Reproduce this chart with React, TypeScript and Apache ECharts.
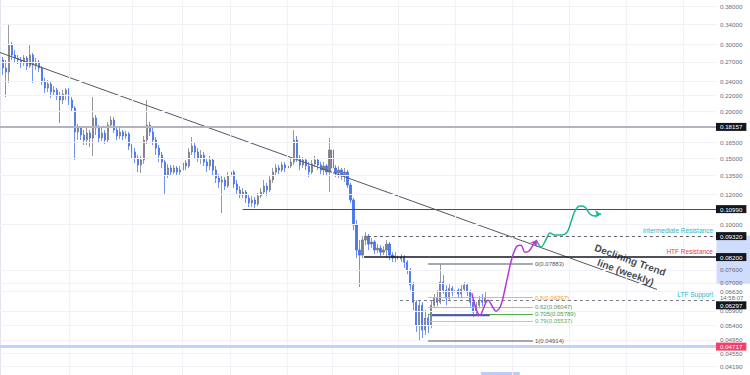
import React, { useEffect, useRef } from "react";
import * as echarts from "echarts";

// ---------- data ----------
const SLOT_COUNT = 240; // time slots across the plot (candles + future space)
const FIRST_SLOT = 1;
const FIRST_OPEN = 0.2732;

const closes = [
  0.2602, 0.2539, 0.2994, 0.2817, 0.2766, 0.2732, 0.2683, 0.2766, 0.2634, 0.2817,
  0.2650, 0.2699, 0.2602, 0.2389, 0.2303, 0.2360, 0.2247, 0.2275, 0.2193, 0.2140,
  0.2220, 0.2275, 0.2140, 0.2038, 0.1760, 0.1804, 0.1728, 0.1676, 0.1750, 0.1697,
  0.1918, 0.1804, 0.1697, 0.1750, 0.1676, 0.1837, 0.1894, 0.1782, 0.1718, 0.1760,
  0.1718, 0.1739, 0.1616, 0.1558, 0.1501, 0.1439, 0.1483, 0.1676, 0.1837, 0.1760,
  0.1676, 0.1596, 0.1529, 0.1465, 0.1353, 0.1413, 0.1378, 0.1413, 0.1378, 0.1395,
  0.1456, 0.1430, 0.1558, 0.1616, 0.1558, 0.1501, 0.1529, 0.1465, 0.1430, 0.1483,
  0.1395, 0.1329, 0.1297, 0.1313, 0.1265, 0.1345, 0.1378, 0.1281, 0.1235, 0.1198,
  0.1220, 0.1176, 0.1141, 0.1162, 0.1134, 0.1191, 0.1220, 0.1265, 0.1235, 0.1313,
  0.1378, 0.1413, 0.1395, 0.1439, 0.1413, 0.1430, 0.1465, 0.1676, 0.1501, 0.1439,
  0.1483, 0.1430, 0.1378, 0.1448, 0.1483, 0.1439, 0.1395, 0.1430, 0.1378, 0.1577,
  0.1413, 0.1370, 0.1395, 0.1345, 0.1378, 0.1273, 0.1162, 0.0997, 0.0856, 0.0830,
  0.0910, 0.0932, 0.0888, 0.0899, 0.0856, 0.0866, 0.0845, 0.0856, 0.0888, 0.0830,
  0.0815, 0.0825, 0.0810, 0.0820, 0.0795, 0.0757, 0.0691, 0.0622, 0.0541, 0.0611,
  0.0525, 0.0565, 0.0541, 0.0611, 0.0638, 0.0622, 0.0704, 0.0670, 0.0638, 0.0678,
  0.0662, 0.0670, 0.0654, 0.0674, 0.0691, 0.0662, 0.0622, 0.0586, 0.0611, 0.0630,
  0.0622, 0.0638,
];

const highs = [
  0.2783, 0.2732, 0.3384, 0.3050, 0.2904, 0.2817, 0.2783, 0.2817, 0.2800, 0.2994,
  0.2852, 0.2766, 0.2732, 0.2634, 0.2448, 0.2418, 0.2389, 0.2331, 0.2303, 0.2247,
  0.2275, 0.2303, 0.2303, 0.2180, 0.2063, 0.1849, 0.1826, 0.1782, 0.1804, 0.1782,
  0.2180, 0.1953, 0.1837, 0.1804, 0.1782, 0.1871, 0.1941, 0.1929, 0.1815, 0.1804,
  0.1782, 0.1771, 0.1760, 0.1636, 0.1596, 0.1529, 0.1520, 0.1718, 0.2140, 0.1871,
  0.1804, 0.1707, 0.1626, 0.1558, 0.1483, 0.1448, 0.1439, 0.1439, 0.1430, 0.1430,
  0.1483, 0.1483, 0.1596, 0.1707, 0.1646, 0.1596, 0.1577, 0.1558, 0.1501, 0.1520,
  0.1501, 0.1430, 0.1361, 0.1345, 0.1337, 0.1378, 0.1413, 0.1395, 0.1313, 0.1265,
  0.1250, 0.1235, 0.1198, 0.1191, 0.1184, 0.1213, 0.1250, 0.1313, 0.1289, 0.1345,
  0.1413, 0.1448, 0.1439, 0.1465, 0.1465, 0.1465, 0.1501, 0.1782, 0.1718, 0.1529,
  0.1510, 0.1501, 0.1465, 0.1483, 0.1520, 0.1501, 0.1465, 0.1465, 0.1448, 0.1697,
  0.1626, 0.1439, 0.1430, 0.1413, 0.1413, 0.1395, 0.1289, 0.1176, 0.1028, 0.0910,
  0.0932, 0.0955, 0.0944, 0.0921, 0.0910, 0.0888, 0.0882, 0.0877, 0.0910, 0.0899,
  0.0845, 0.0845, 0.0835, 0.0835, 0.0830, 0.0805, 0.0767, 0.0704, 0.0630, 0.0630,
  0.0622, 0.0593, 0.0579, 0.0630, 0.0654, 0.0670, 0.0788, 0.0735, 0.0691, 0.0695,
  0.0687, 0.0687, 0.0678, 0.0691, 0.0704, 0.0699, 0.0670, 0.0630, 0.0622, 0.0646,
  0.0654, 0.0662,
];

const lows = [
  0.2493, 0.2180, 0.2374, 0.2732, 0.2699, 0.2666, 0.2602, 0.2634, 0.2570, 0.2602,
  0.2374, 0.2570, 0.2539, 0.2345, 0.2234, 0.2247, 0.2166, 0.2193, 0.2140, 0.1860,
  0.2089, 0.2140, 0.2076, 0.1989, 0.1483, 0.1676, 0.1676, 0.1626, 0.1626, 0.1606,
  0.1520, 0.1728, 0.1646, 0.1666, 0.1636, 0.1656, 0.1804, 0.1750, 0.1676, 0.1686,
  0.1676, 0.1686, 0.1577, 0.1501, 0.1456, 0.1378, 0.1370, 0.1448, 0.1636, 0.1718,
  0.1626, 0.1529, 0.1465, 0.1413, 0.1198, 0.1329, 0.1345, 0.1361, 0.1353, 0.1353,
  0.1370, 0.1395, 0.1413, 0.1529, 0.1501, 0.1465, 0.1448, 0.1430, 0.1378, 0.1395,
  0.1353, 0.1289, 0.1250, 0.1073, 0.1235, 0.1250, 0.1313, 0.1250, 0.1198, 0.1176,
  0.1176, 0.1141, 0.1113, 0.1113, 0.1106, 0.1120, 0.1176, 0.1198, 0.1191, 0.1220,
  0.1289, 0.1345, 0.1361, 0.1378, 0.1378, 0.1395, 0.1413, 0.1439, 0.1465, 0.1395,
  0.1413, 0.1395, 0.1337, 0.1361, 0.1422, 0.1395, 0.1361, 0.1353, 0.1345, 0.1220,
  0.1378, 0.1337, 0.1329, 0.1313, 0.1297, 0.1250, 0.1141, 0.0967, 0.0815, 0.0683,
  0.0815, 0.0882, 0.0856, 0.0866, 0.0835, 0.0840, 0.0825, 0.0830, 0.0815, 0.0805,
  0.0795, 0.0795, 0.0786, 0.0795, 0.0767, 0.0739, 0.0670, 0.0593, 0.0519, 0.0491,
  0.0500, 0.0509, 0.0515, 0.0531, 0.0600, 0.0607, 0.0615, 0.0654, 0.0611, 0.0630,
  0.0646, 0.0638, 0.0638, 0.0642, 0.0662, 0.0646, 0.0607, 0.0568, 0.0572, 0.0600,
  0.0607, 0.0615,
];

// price-axis tick labels
const tickPrices = [
  0.38, 0.34, 0.3, 0.27, 0.24, 0.22, 0.2, 0.165, 0.15, 0.135, 0.12, 0.1,
  0.076, 0.07, 0.0663, 0.059, 0.054, 0.0495, 0.0455, 0.0419,
];
const Y_MAX_PRICE = 0.3942;
const Y_MIN_PRICE = 0.0399;

// horizontal levels (boxed on the price axis)
const levelPrices = [0.18157, 0.1099, 0.0932, 0.082, 0.06297, 0.04717];
const levelStartSlots = [0, 81, 122.8, 121.5, 133.5, 0];
const levelBoxColors = ["#131722", "#131722", "#131722", "#131722", "#131722", "#f23f6b"];
const supportBandPrice = 0.0477;

// level annotations
const annotationTexts = ["Intermediate Resistance", "HTF Resistance", "LTF Support"];
const annotationPrices = [0.0932, 0.082, 0.06297];
const annotationColors = ["#1fb5cc", "#f23645", "#1fb5cc"];
const timerText = "14:58:07";
const timerPrice = 0.0637;

// declining trend line (weekly)
const trendSlots = [0, 219.3];
const trendPrices = [0.286, 0.0673];
const trendLabel = "Declining Trend\nline (weekly)";
const trendLabelPoint = [209.6, 0.0776];

// fibonacci retracement
const fibRatios = ["0", "0.5", "0.62", "0.705", "0.79", "1"];
const fibPrices = [0.07883, 0.06397, 0.06047, 0.05789, 0.05537, 0.04914];
const fibColors = ["#8a8d96", "#f7b267", "#8fd19e", "#4caf50", "#a5d6a7", "#8a8d96"];
const fibLabelColors = ["#50535e", "#f59a2e", "#5d8f66", "#43a047", "#5fae63", "#50535e"];
const fibSlots = [142.9, 177.9];

// purple base line and projections
const baseLineSlots = [144.2, 163.5];
const baseLinePrice = 0.0575;
const purplePath = [
  [157.5, 0.0658], [160.2, 0.0575], [162.9, 0.063], [165.6, 0.0589], [167.2, 0.0611],
  [169.2, 0.0712], [170.9, 0.0815], [172.6, 0.0877], [173.9, 0.0882], [175.2, 0.0845],
  [176.6, 0.0851], [177.9, 0.0882], [179.2, 0.091],
];
const tealPath = [
  [179.2, 0.0904], [180.6, 0.0872], [182.2, 0.091], [183.6, 0.095], [185.2, 0.0938],
  [187.2, 0.0938], [189.3, 0.0955], [190.6, 0.1016], [191.9, 0.1086], [193.6, 0.112],
  [195.3, 0.1113], [196.9, 0.1067], [198.6, 0.1054], [200.6, 0.1067],
];

// vertical grid slots and highlights
const verticalGridSlots = [23, 44, 61, 77, 96, 111, 133, 152, 171, 190, 209, 228];
const axisHighlightPrices = [0.0935, 0.0697];
const timeHighlightSlots = [160.5, 173.5];

// ---------- option ----------
const L = (p: number) => Math.log(p);
const FONT = "'Liberation Sans', Arial, sans-serif";

function buildOption() {
  const candleData = closes.map((c, i) => [
    FIRST_SLOT + i,
    L(i === 0 ? FIRST_OPEN : closes[i - 1]),
    L(c),
    L(lows[i]),
    L(highs[i]),
  ]);

  const seg = (x0: number, x1: number, price: number, lineStyle: any, label: any) => [
    { coord: [x0, L(price)], lineStyle, label },
    { coord: [x1, L(price)] },
  ];

  const levelStyles = [
    { color: "#b2b5be", width: 2, type: "solid" },
    { color: "#4a4c55", width: 1, type: "solid" },
    { color: "#5d606b", width: 1, type: [3, 3] },
    { color: "#131722", width: 1.5, type: "solid" },
    { color: "#787b86", width: 1, type: [3, 3] },
    { color: "#f6a5b8", width: 1, type: "solid" },
  ];
  const levelOffsets = [0, 0, 0, 0, 5, -1];

  const levelLines: any[] = levelPrices.map((p, i) =>
    seg(levelStartSlots[i], SLOT_COUNT - 1, p, levelStyles[i], {
      show: true,
      position: "end",
      distance: 0,
      offset: [0, levelOffsets[i]],
      formatter: p.toFixed(5),
      color: "#ffffff",
      backgroundColor: levelBoxColors[i],
      padding: [1, 4, 0.5, 4],
      lineHeight: 6.5,
      fontSize: 6.2,
      fontFamily: FONT,
    })
  );
  levelLines.push(
    seg(0, SLOT_COUNT - 1, supportBandPrice, { color: "#c3d3f7", width: 3, type: "solid" }, { show: false })
  );

  const annotationLines: any[] = annotationTexts.map((t, i) =>
    seg(110, SLOT_COUNT - 1, annotationPrices[i], { color: "rgba(0,0,0,0)", width: 1 }, {
      show: true,
      position: "insideEndTop",
      distance: [3, 2],
      formatter: t,
      color: annotationColors[i],
      fontSize: 6.5,
      fontFamily: FONT,
    })
  );
  annotationLines.push(
    seg(200, SLOT_COUNT - 1, timerPrice, { color: "rgba(0,0,0,0)", width: 1 }, {
      show: true,
      position: "end",
      distance: 4,
      formatter: timerText,
      color: "#6a6d78",
      fontSize: 6,
      lineHeight: 5.5,
      fontFamily: FONT,
    })
  );

  const fibLines: any[] = fibPrices.map((p, i) =>
    seg(fibSlots[0], fibSlots[1], p, { color: fibColors[i], width: i === 0 || i === 5 ? 1.5 : 1, type: "solid" }, {
      show: true,
      position: "end",
      distance: 2,
      formatter: `${fibRatios[i]}(${p.toFixed(5)})`,
      color: fibLabelColors[i],
      fontSize: 6,
      fontFamily: FONT,
    })
  );

  const gridLines: any[] = [
    ...tickPrices.map((p) => ({ yAxis: L(p) })),
    ...verticalGridSlots.map((s) => ({ xAxis: s })),
  ];

  return {
    animation: false,
    backgroundColor: "#ffffff",
    textStyle: { fontFamily: FONT },
    grid: { left: 0, right: 34, top: 0, bottom: 0 },
    xAxis: [
      {
        type: "category",
        data: Array.from({ length: SLOT_COUNT }, (_, i) => String(i)),
        boundaryGap: false,
        show: false,
      },
      { type: "value", min: 0, max: SLOT_COUNT - 1, show: false },
    ],
    yAxis: {
      type: "value",
      position: "right",
      min: L(Y_MIN_PRICE),
      max: L(Y_MAX_PRICE),
      z: 1,
      axisLine: { show: true, lineStyle: { color: "#e0e3eb", width: 1 } },
      axisTick: { show: false, customValues: tickPrices.map(L) },
      splitLine: { show: false },
      axisLabel: {
        customValues: tickPrices.map(L),
        formatter: (v: number) => Math.exp(v).toFixed(5),
        margin: 4,
        fontSize: 6.2,
        lineHeight: 5.5,
        color: "#6a6d78",
        fontFamily: FONT,
      },
    },
    series: [
      {
        name: "grid",
        type: "line",
        xAxisIndex: 1,
        data: [],
        z: 1,
        markLine: {
          silent: true,
          symbol: ["none", "none"],
          label: { show: false },
          lineStyle: { color: "#f0f2f7", width: 1, type: "solid" },
          data: gridLines,
        },
      },
      {
        name: "price",
        type: "candlestick",
        xAxisIndex: 0,
        z: 3,
        barWidth: 1.6,
        encode: { x: 0, y: [1, 2, 3, 4] },
        itemStyle: {
          color: "#6f727d",
          color0: "#3566f0",
          borderColor: "#6f727d",
          borderColor0: "#3566f0",
          borderWidth: 0.8,
          opacity: 0.9,
        },
        data: candleData,
      },
      {
        name: "trend",
        type: "line",
        xAxisIndex: 1,
        z: 4,
        symbol: "none",
        lineStyle: { color: "#55575f", width: 1 },
        data: trendSlots.map((s, i) => [s, L(trendPrices[i])]),
      },
      {
        name: "levels",
        type: "line",
        xAxisIndex: 1,
        data: [],
        z: 5,
        markLine: { silent: true, symbol: ["none", "none"], data: levelLines },
      },
      {
        name: "annotations",
        type: "line",
        xAxisIndex: 1,
        data: [],
        z: 5,
        markLine: { silent: true, symbol: ["none", "none"], data: annotationLines },
      },
      {
        name: "fib",
        type: "line",
        xAxisIndex: 1,
        data: [],
        z: 4,
        markLine: { silent: true, symbol: ["none", "none"], data: fibLines },
      },
      {
        name: "base",
        type: "line",
        xAxisIndex: 1,
        z: 6,
        symbol: "none",
        lineStyle: { color: "#5b4fc0", width: 2 },
        data: baseLineSlots.map((s) => [s, L(baseLinePrice)]),
      },
      {
        name: "purple",
        type: "line",
        xAxisIndex: 1,
        z: 7,
        smooth: 0.35,
        symbol: "none",
        lineStyle: { color: "#b23bd6", width: 1.5 },
        data: purplePath.map(([s, p], i) =>
          i === purplePath.length - 1
            ? { value: [s, L(p)], symbol: "arrow", symbolSize: 6, symbolRotate: -35, itemStyle: { color: "#b23bd6" } }
            : [s, L(p)]
        ),
      },
      {
        name: "teal",
        type: "line",
        xAxisIndex: 1,
        z: 7,
        smooth: 0.35,
        symbol: "none",
        lineStyle: { color: "#1fb59a", width: 1.5 },
        data: tealPath.map(([s, p], i) =>
          i === tealPath.length - 1
            ? { value: [s, L(p)], symbol: "arrow", symbolSize: 6, symbolRotate: -90, itemStyle: { color: "#1fb59a" } }
            : [s, L(p)]
        ),
      },
      {
        name: "trendLabel",
        type: "scatter",
        xAxisIndex: 1,
        z: 8,
        symbolSize: 1,
        itemStyle: { color: "rgba(0,0,0,0)" },
        label: {
          show: true,
          position: "inside",
          formatter: trendLabel,
          rotate: -20,
          fontSize: 10,
          fontWeight: "bold",
          lineHeight: 13,
          align: "center",
          color: "#131722",
          fontFamily: FONT,
        },
        data: [[trendLabelPoint[0], L(trendLabelPoint[1])]],
      },
    ],
  };
}

export default function App() {
  const ref = useRef<HTMLDivElement>(null);
  useEffect(() => {
    document.body.style.margin = "0";
    const chart = echarts.init(ref.current!, null, { renderer: "svg" });
    chart.setOption(buildOption() as any);
    const yPix = (p: number) => chart.convertToPixel({ yAxisIndex: 0 }, L(p)) as number;
    const xPix = (s: number) => chart.convertToPixel({ xAxisIndex: 1 }, s) as number;
    const axisX = xPix(SLOT_COUNT - 1);
    const y0 = yPix(axisHighlightPrices[0]);
    const y1 = yPix(axisHighlightPrices[1]);
    const tx0 = xPix(timeHighlightSlots[0]);
    const tx1 = xPix(timeHighlightSlots[1]);
    const H = chart.getHeight();
    chart.setOption({
      graphic: [
        {
          type: "rect",
          z: -1,
          silent: true,
          shape: { x: axisX + 0.5, y: y0, width: chart.getWidth() - axisX, height: y1 - y0 },
          style: { fill: "#cfdcfb" },
        },
        {
          type: "rect",
          z: -1,
          silent: true,
          shape: { x: tx0, y: H - 3, width: tx1 - tx0, height: 3 },
          style: { fill: "#b9cdf8" },
        },
      ],
    });
    return () => chart.dispose();
  }, []);
  return (
    <div
      ref={ref}
      style={{ position: "fixed", left: 0, top: 0, width: 750, height: 375, background: "#fff" }}
    />
  );
}
